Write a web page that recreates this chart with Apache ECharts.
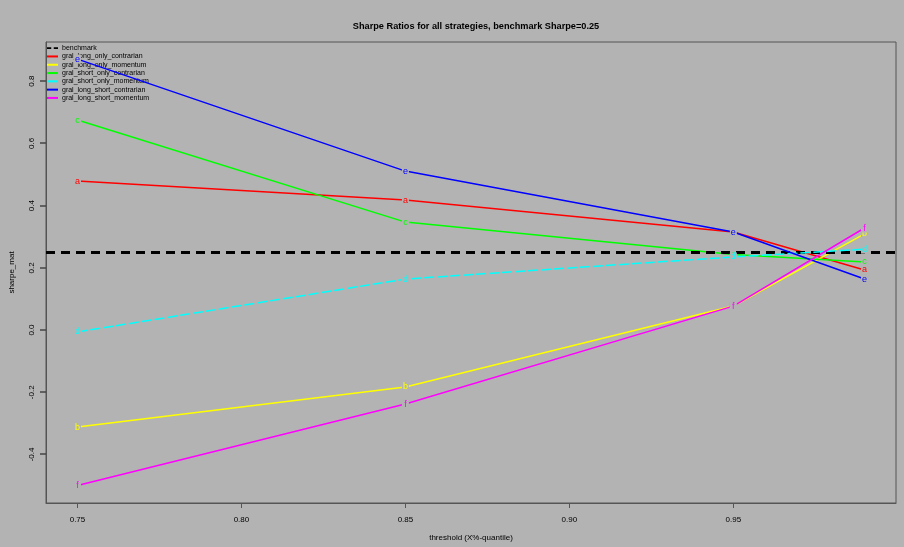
<!DOCTYPE html>
<html><head><meta charset="utf-8">
<script src="https://cdn.jsdelivr.net/npm/echarts@6/dist/echarts.min.js"></script>
<style>html,body{margin:0;padding:0;background:#b3b3b3}#c{width:904px;height:547px}</style>
</head><body><div id="c"></div>
<script>
const thresholds = [0.75, 0.85, 0.95, 0.99];
const xTicks = [0.75, 0.80, 0.85, 0.90, 0.95];
const yTicks = [-0.4, -0.2, 0.0, 0.2, 0.4, 0.6, 0.8];
const benchmark = 0.25;
const seriesNames = ['gral_long_only_contrarian','gral_long_only_momentum','gral_short_only_contrarian','gral_short_only_momentum','gral_long_short_contrarian','gral_long_short_momentum'];
const seriesLetters = ['a','b','c','d','e','f'];
const seriesColors = ['#ff0000','#ffff00','#00ff00','#00ffff','#0000ff','#ff00ff'];
const vals_a = [0.479, 0.418, 0.315, 0.193];
const vals_b = [-0.312, -0.183, 0.077, 0.309];
const vals_c = [0.675, 0.347, 0.243, 0.219];
const vals_d = [-0.006, 0.164, 0.235, 0.260];
const vals_e = [0.871, 0.511, 0.315, 0.164];
const vals_f = [-0.500, -0.238, 0.077, 0.328];
const allVals = [vals_a, vals_b, vals_c, vals_d, vals_e, vals_f];
const lineTypes = ['solid','solid','solid',[10,3],'solid','solid'];

const bg = '#b3b3b3';
const font = 'Liberation Sans, Arial, Helvetica, sans-serif';

const series = [{
  name: 'benchmark', type: 'line', data: [], symbol: 'none', z: 1,
  lineStyle: {color: '#000'},
  markLine: {silent: true, symbol: 'none', label: {show: false},
    lineStyle: {color: '#000', type: [9, 6], width: 3},
    data: [{yAxis: benchmark}]}
}];
allVals.forEach((v, i) => {
  series.push({
    name: seriesNames[i], type: 'line', z: 2 + i,
    data: thresholds.map((x, j) => [x, v[j]]),
    symbol: 'rect', symbolSize: [7, 9], showSymbol: true,
    itemStyle: {color: bg, borderWidth: 0},
    lineStyle: {color: seriesColors[i], width: 1.5, type: lineTypes[i]},
    label: {show: true, position: 'inside', formatter: seriesLetters[i], color: seriesColors[i], fontSize: 9, fontFamily: font},
    emphasis: {disabled: true}, animation: false
  });
});

const legendData = [{name: 'benchmark', icon: 'path://M0,0h5v2h-5z M8,0h5v2h-5z', itemStyle: {color: '#000'}}]
  .concat(seriesNames.map((n, i) => ({name: n, icon: 'rect', itemStyle: {color: seriesColors[i]}})));

const chart = echarts.init(document.getElementById('c'), null, {renderer: 'canvas'});
chart.setOption({
  backgroundColor: bg,
  animation: false,
  title: {text: 'Sharpe Ratios for all strategies, benchmark Sharpe=0.25', left: 471, textAlign: 'center', top: 17,
    textStyle: {fontSize: 9.2, fontWeight: 'bold', color: '#000', fontFamily: font}},
  legend: {data: legendData, orient: 'vertical', left: 47, top: 44, itemWidth: 11, itemHeight: 2, itemGap: 0,
    textStyle: {fontSize: 7, lineHeight: 8.3, color: '#000', fontFamily: font, padding: [0,0,0,-1]}, padding: 0, selectedMode: false},
  grid: {left: 45, right: 8, top: 42, bottom: 44, show: true, borderColor: '#555', borderWidth: 1, backgroundColor: bg},
  xAxis: {type: 'value', min: 0.7404, max: 0.9996,
    name: 'threshold (X%-quantile)', nameLocation: 'middle', nameGap: 31,
    nameTextStyle: {fontSize: 8, color: '#000', fontFamily: font},
    axisLine: {show: true, onZero: false, lineStyle: {color: '#555'}}, splitLine: {show: false},
    axisTick: {show: true, length: 5, lineStyle: {color: '#555'}, customValues: xTicks},
    axisLabel: {color: '#000', fontSize: 8, fontFamily: font, margin: 13, customValues: xTicks, formatter: v => v.toFixed(2)}},
  yAxis: {type: 'value', min: -0.556, max: 0.926, position: 'left',
    name: 'sharpe_mat', nameLocation: 'middle', nameGap: 30,
    nameTextStyle: {fontSize: 8, color: '#000', fontFamily: font},
    axisLine: {show: true, onZero: false, lineStyle: {color: '#555'}}, splitLine: {show: false},
    axisTick: {show: false},
    axisLabel: {color: '#000', fontSize: 8, fontFamily: font, margin: 10, rotate: 90, customValues: yTicks, formatter: v => v.toFixed(1)}},
  series: series
});
// y-axis tick marks placed through the axis scale
const gridLeft = chart.convertToPixel({xAxisIndex: 0}, 0.7404);
chart.setOption({
  graphic: yTicks.map(v => {
    const py = Math.round(chart.convertToPixel({yAxisIndex: 0}, v));
    return {type: 'line', shape: {x1: gridLeft - 6, y1: py, x2: gridLeft, y2: py}, style: {stroke: '#444', lineWidth: 1.5}, silent: true, z: 10};
  })
});
</script></body></html>
